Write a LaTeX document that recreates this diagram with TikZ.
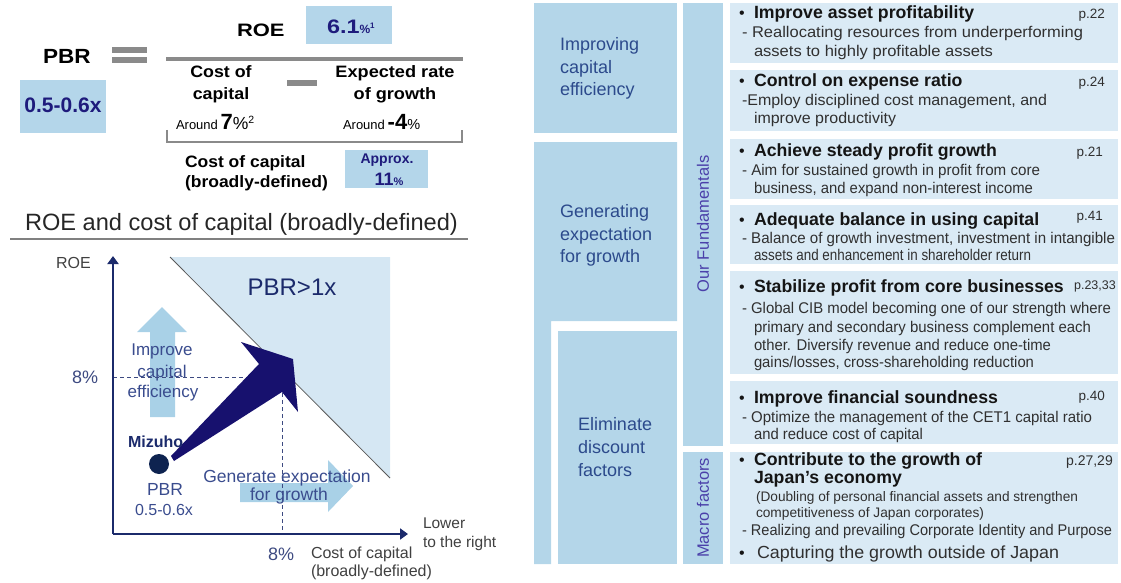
\documentclass[tikz,border=0pt]{standalone}
\usepackage{fontspec}
\usepackage{graphicx}
\setmainfont{Liberation Sans}
\usetikzlibrary{arrows.meta}

\definecolor{panelDark}{HTML}{B4D6E9}
\definecolor{panelLight}{HTML}{DAEAF5}
\definecolor{valueFill}{HTML}{B4D6EA}
\definecolor{navyText}{HTML}{1E1B7C}
\definecolor{leftText}{HTML}{2C4A8C}
\definecolor{fundText}{HTML}{4B40AA}
\definecolor{ruleGray}{HTML}{8A8A8A}
\definecolor{headText}{HTML}{151515}
\definecolor{bodyText}{HTML}{303030}
\definecolor{zoneFill}{HTML}{D5E7F3}
\definecolor{lightArrow}{HTML}{A9D1E7}
\definecolor{bigArrow}{HTML}{17116E}
\definecolor{axisBlue}{HTML}{1B2A6B}
\definecolor{chartText}{HTML}{3A4C8E}
\definecolor{dotBlue}{HTML}{0E2350}

\newcommand\fsz[1]{\fontsize{#1pt}{#1pt}\selectfont}
\newcommand\sx[2]{\scalebox{#1}[1]{#2}}
% a line of text brought to a given width (horizontal scaling only)
\newcommand\jl[2]{\resizebox{#1pt}{\height}{#2}}

\begin{document}
\begin{tikzpicture}[x=1pt,y=-1pt,
  txt/.style={anchor=base west,inner sep=0pt,outer sep=0pt},
  ctxt/.style={anchor=base,inner sep=0pt,outer sep=0pt},
  hdr/.style={txt,font=\fsz{17.7}\bfseries,text=headText},
  bullet/.style={txt,font=\fsz{16},text=headText},
  bodytxt/.style={txt,font=\fsz{15.5},text=bodyText},
  pgno/.style={anchor=base east,inner sep=0pt,font=\fsz{13.5},text=bodyText},
  lefttxt/.style={txt,font=\fsz{18},text=leftText},
  formula/.style={font=\fsz{16.5}\bfseries,text=black},
  chart/.style={font=\fsz{17},text=chartText},
]
\useasboundingbox (0,0) rectangle (1121,583);

% ---------------- PBR formula ----------------
\fill[ruleGray] (112,47) rectangle (147,53);
\fill[ruleGray] (112,57) rectangle (147,63);
\fill[ruleGray] (166,57) rectangle (463,61);
\fill[ruleGray] (287,80) rectangle (317,86);
\draw[ruleGray,line width=2.5pt] (167,130) -- (167,142) -- (462,142) -- (462,130);
\fill[valueFill] (306,6) rectangle (392,44);
\fill[valueFill] (20,80) rectangle (106,133);
\fill[valueFill] (345,150) rectangle (428,188);

\node[txt,font=\fsz{20.5}\bfseries] (pbr) at (43,64) {\sx{1.1}{PBR}};
\node[txt,font=\fsz{18}\bfseries] (roe) at (237,37) {\sx{1.22}{ROE}};
\node[txt,text=navyText,font=\bfseries] (roeval) at (327,34)
  {{\fsz{19.5}\sx{1.2}{6.1}}{\fsz{12}\%}{\fsz{8}\raisebox{5pt}{1}}};
\node[ctxt,font=\fsz{21}\bfseries,text=navyText] (pbrval) at (63,113) {0.5-0.6x};

\node[ctxt,formula] (coc1) at (221,78) {\sx{1.08}{Cost of}};
\node[ctxt,formula] (coc2) at (221,100) {\sx{1.08}{capital}};
\node[ctxt,formula] (erg1) at (395,78) {\sx{1.1}{Expected rate}};
\node[ctxt,formula] (erg2) at (395,100) {\sx{1.1}{of growth}};
\node[txt] (coc3) at (176,130)
  {{\fsz{13}Around} {\fsz{22}\bfseries 7}{\fsz{17.5}\%}{\fsz{10.5}\raisebox{6pt}{2}}};
\node[txt] (erg3) at (343,130)
  {{\fsz{13}Around} {\fsz{22}\bfseries -4}{\fsz{14.5}\%}};
\node[txt,formula] (cbd1) at (185,167) {\sx{1.06}{Cost of capital}};
\node[txt,formula] (cbd2) at (185,187) {\sx{1.06}{(broadly-defined)}};
\node[ctxt,font=\fsz{14}\bfseries,text=navyText] (apx1) at (387,163) {Approx.};
\node[ctxt,text=navyText,font=\bfseries] (apx2) at (389,185) {{\fsz{18}11}{\fsz{11}\%}};

% ---------------- chart ----------------
\node[txt,font=\fsz{23.6},text=black!85] (ctitle) at (25,230) {ROE and cost of capital (broadly-defined)};
\draw[line width=1.5pt,black!50] (10,239) -- (468,239);

\fill[zoneFill] (170,257) -- (390,257) -- (390,478) -- cycle;
\draw[line width=0.8pt,black!65] (170,257) -- (390,478);

\fill[lightArrow] (150,417) -- (150,332) -- (137,332) -- (162,307) -- (187,332)
  -- (175,332) -- (175,417) -- cycle;
\fill[lightArrow] (240,483) -- (328,483) -- (328,460) -- (353,486) -- (328,512)
  -- (328,502) -- (240,502) -- cycle;

\coordinate (O) at (113,534);
\coordinate (ytop) at (113,256);
\coordinate (xend) at (408,534);
\coordinate (h8) at (113,377);
\coordinate (h8e) at (282,377);
\coordinate (v8) at (282,393);
\coordinate (v8e) at (282,534);
\draw[dashed,dash pattern=on 4pt off 3pt,line width=1pt,axisBlue!85] (h8) -- (h8e);
\draw[dashed,dash pattern=on 4pt off 3pt,line width=1pt,axisBlue!85] (v8) -- (v8e);
\draw[line width=2.6pt,axisBlue,-{Triangle[length=8pt,width=11pt]}] (O) -- (ytop);
\draw[line width=2.6pt,axisBlue,-{Triangle[length=8pt,width=11pt]}] (O) -- (xend);

\node[ctxt,font=\fsz{24},text=axisBlue] (pbr1x) at (292,295) {PBR>1x};
\node[ctxt,chart] (ice1) at (162,355) {Improve};
\node[ctxt,chart] (ice2) at (162,377) {capital};
\node[ctxt,chart] (ice3) at (163,397) {efficiency};
\node[ctxt,chart,font=\fsz{17.5}] (geg1) at (287,482) {Generate expectation};
\node[ctxt,chart,font=\fsz{17.5}] (geg2) at (289,500) {for growth};

\fill[bigArrow] (171,456) -- (259,364) -- (241,342) -- (293,359) -- (298,412)
  -- (282,392) -- (174,461) -- cycle;
\fill[dotBlue] (159,464) circle (10);

\node[txt,font=\fsz{16}\bfseries,text=axisBlue] (mizuho) at (128,447) {Mizuho};
\node[ctxt,font=\fsz{17.5},text=chartText] (mpbr) at (165,495) {PBR};
\node[ctxt,font=\fsz{16},text=chartText] (mval) at (164,515) {0.5-0.6x};

\node[txt,font=\fsz{16},text=black!75] (roeax) at (56,268) {ROE};
\node[txt,font=\fsz{18},text=axisBlue!85] (y8) at (72,383) {8\%};
\node[txt,font=\fsz{18},text=axisBlue!85] (x8) at (268,560) {8\%};
\node[txt,font=\fsz{16},text=black!75] (xl1) at (311,558) {Cost of capital};
\node[txt,font=\fsz{16},text=black!75] (xl2) at (311,576) {(broadly-defined)};
\node[txt,font=\fsz{15.5},text=black!75] (lr1) at (423,528) {Lower};
\node[txt,font=\fsz{15.5},text=black!75] (lr2) at (423,547) {to the right};

% ---------------- approach columns ----------------
\fill[panelDark] (534,3) rectangle (677,133);
\fill[panelDark] (534,142) -- (677,142) -- (677,321) -- (551,321) -- (551,564) -- (534,564) -- cycle;
\fill[panelDark] (558,331) rectangle (677,564);
\fill[panelDark] (683,3) rectangle (723,446);
\fill[panelDark] (683,452) rectangle (723,564);

\node[lefttxt] (a1) at (560,51) {Improving};
\node[lefttxt] (a2) at (560,74) {capital};
\node[lefttxt] (a3) at (560,96) {efficiency};
\node[lefttxt] (b1) at (560,217) {Generating};
\node[lefttxt] (b2) at (560,240) {expectation};
\node[lefttxt] (b3) at (560,262) {for growth};
\node[lefttxt] (c1) at (578,430) {Eliminate};
\node[lefttxt] (c2) at (578,453) {discount};
\node[lefttxt] (c3) at (578,476) {factors};

\node[rotate=90,font=\fsz{16.5},text=fundText,inner sep=0pt] (fund) at (703,224) {Our Fundamentals};
\node[rotate=90,font=\fsz{16.5},text=fundText,inner sep=0pt] (macro) at (703,508) {Macro factors};

% ---------------- initiatives ----------------
\fill[panelLight] (730,3) rectangle (1118,63);
\fill[panelLight] (730,70) rectangle (1118,131);
\fill[panelLight] (730,139) rectangle (1118,199);
\fill[panelLight] (730,205) rectangle (1118,264);
\fill[panelLight] (730,271) rectangle (1118,374);
\fill[panelLight] (730,381) rectangle (1118,444);
\fill[panelLight] (730,452) rectangle (1118,564);

% asset profitability
\node[bullet] (k1) at (739,19) {•};
\node[hdr] (h1) at (754,19) {Improve asset profitability};
\node[pgno] (p1) at (1105,19) {p.22};
\node[bodytxt] (t1a) at (742,38) {\jl{341}{- Reallocating resources from underperforming}};
\node[bodytxt] (t1b) at (754,57) {\jl{239}{assets to highly profitable assets}};

% expense ratio
\node[bullet] (k2) at (739,87) {•};
\node[hdr] (h2) at (754,87) {Control on expense ratio};
\node[pgno] (p2) at (1105,87) {p.24};
\node[bodytxt] (t2a) at (742,106) {\jl{305}{-Employ disciplined cost management, and}};
\node[bodytxt] (t2b) at (754,124) {\jl{142}{improve productivity}};

% profit growth
\node[bullet] (k3) at (739,156) {•};
\node[hdr] (h3) at (754,156) {Achieve steady profit growth};
\node[pgno] (p3) at (1103,156) {p.21};
\node[bodytxt] (t3a) at (742,175) {\jl{298}{- Aim for sustained growth in profit from core}};
\node[bodytxt] (t3b) at (754,193) {\jl{279}{business, and expand non-interest income}};

% balance in using capital
\node[bullet] (k4) at (739,225) {•};
\node[hdr] (h4) at (754,225) {Adequate balance in using capital};
\node[pgno] (p4) at (1103,220) {p.41};
\node[bodytxt] (t4a) at (742,243) {\jl{373}{- Balance of growth investment, investment in intangible}};
\node[bodytxt] (t4b) at (754,260) {\jl{277}{assets and enhancement in shareholder return}};

% core businesses
\node[bullet] (k5) at (739,292) {•};
\node[hdr] (h5) at (754,292) {Stabilize profit from core businesses};
\node[pgno,font=\fsz{12.5}] (p5) at (1116,289) {p.23,33};
\node[bodytxt] (t5a) at (742,313) {\jl{369}{- Global CIB model becoming one of our strength where}};
\node[bodytxt] (t5b) at (754,332) {\jl{337}{primary and secondary business complement each}};
\node[bodytxt] (t5c) at (754,350) {\jl{297}{other. Diversify revenue and reduce one-time}};
\node[bodytxt] (t5d) at (754,367) {\jl{280}{gains/losses, cross-shareholding reduction}};

% financial soundness
\node[bullet] (k6) at (739,403) {•};
\node[hdr] (h6) at (754,403) {Improve financial soundness};
\node[pgno] (p6) at (1105,400) {p.40};
\node[bodytxt] (t6a) at (742,422) {\jl{350}{- Optimize the management of the CET1 capital ratio}};
\node[bodytxt] (t6b) at (754,439) {\jl{169}{and reduce cost of capital}};

% macro factors
\node[bullet] (k7) at (739,465) {•};
\node[hdr] (h7a) at (754,465) {Contribute to the growth of};
\node[hdr] (h7b) at (754,483) {Japan’s economy};
\node[pgno,font=\fsz{14}] (p7) at (1113,465) {p.27,29};
\node[bodytxt,font=\fsz{13.8}] (t7a) at (756,501) {\jl{322}{(Doubling of personal financial assets and strengthen}};
\node[bodytxt,font=\fsz{13.8}] (t7b) at (756,517) {\jl{228}{competitiveness of Japan corporates)}};
\node[bodytxt] (t7c) at (742,535) {\jl{370}{- Realizing and prevailing Corporate Identity and Purpose}};
\node[bullet] (k8) at (739,558) {•};
\node[bodytxt,font=\fsz{17.5}] (t7d) at (757,558) {\jl{302}{Capturing the growth outside of Japan}};
\end{tikzpicture}
\end{document}
